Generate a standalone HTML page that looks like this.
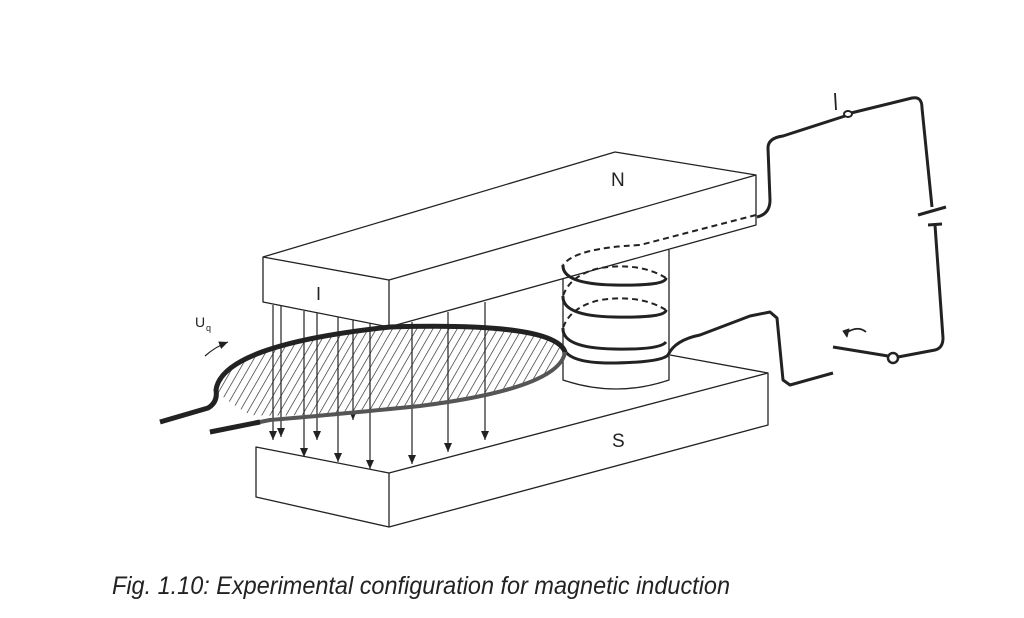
<!DOCTYPE html>
<html><head><meta charset="utf-8"><style>
html,body{margin:0;padding:0;background:#fff;width:1024px;height:618px;overflow:hidden}
</style></head><body>
<svg width="1024" height="618" viewBox="0 0 1024 618" xmlns="http://www.w3.org/2000/svg">
<defs>
<pattern id="h" width="7" height="7" patternUnits="userSpaceOnUse" patternTransform="rotate(30)">
<line x1="0" y1="0" x2="0" y2="7" stroke="#222" stroke-width="1.3"/>
</pattern>
<marker id="a" markerWidth="10" markerHeight="8" refX="9" refY="4" orient="auto" markerUnits="userSpaceOnUse">
<path d="M0,0 L9,4 L0,8 Z" fill="#222"/>
</marker>
</defs>
<g fill="none" stroke="#222" stroke-width="1.3" stroke-linejoin="round">
<!-- bottom magnet -->
<path d="M256,447 L389,473 L768,373 L768,425 L389,527 L256,497 Z" fill="#fff"/>
<line x1="389" y1="473" x2="389" y2="527"/>
<line x1="670" y1="355" x2="768" y2="373"/>
<!-- coil cylinder -->
<path d="M563,250 L563,380 Q616,398 669,380 L669,250" fill="#fff"/>
<!-- top magnet -->
<path d="M263,257 L615,152 L756,175 L756,225 L389,327 L263,302 Z" fill="#fff"/>
<line x1="263" y1="257" x2="389" y2="280"/>
<line x1="389" y1="280" x2="756" y2="175"/>
<line x1="389" y1="280" x2="389" y2="327"/>
<!-- coil: back halves dashed -->
<g stroke-width="2" stroke-dasharray="6,4">
<path d="M756,215 L640,245 Q575,248 563,265"/>
<path d="M666,278 Q640,262 600,268 Q570,275 563,296"/>
<path d="M666,310 Q640,294 600,300 Q570,307 563,328"/>
</g>
<g stroke-width="3">
<path d="M563,265 Q562,284 614,285 Q666,286 666,278"/>
<path d="M563,296 Q562,316 614,317 Q666,318 666,310"/>
<path d="M563,328 Q562,348 614,349 Q660,350 666,342"/>
<path d="M563,346 Q566,364 616,363 Q662,362 668,355 Q675,340 700,335 L750,316 L770,312 L777,318 L783,380 L790,385 L833,373"/>
</g>
<!-- field arrows -->
<g stroke-width="1.2" marker-end="url(#a)">
<line x1="273" y1="305" x2="273" y2="440"/>
<line x1="281" y1="306" x2="281" y2="437"/>
<line x1="304" y1="311" x2="304" y2="457"/>
<line x1="317" y1="313" x2="317" y2="440"/>
<line x1="338" y1="317" x2="338" y2="462"/>
<line x1="353" y1="320" x2="353" y2="420"/>
<line x1="370" y1="323" x2="370" y2="469"/>
<line x1="412" y1="322" x2="412" y2="464"/>
<line x1="448" y1="312" x2="448" y2="452"/>
<line x1="485" y1="302" x2="485" y2="440"/>
</g>
<!-- loop -->
<path d="M218,392 Q225,340 390,327 Q555,322 565,352 Q560,388 420,406 Q300,418 250,415 Q225,400 218,392 Z" fill="url(#h)" stroke="none"/>
<path d="M160,422 L208,408 Q218,402 216,390 Q222,345 390,327 Q555,322 565,352" stroke-width="5"/>
<path d="M565,352 Q560,388 420,406 Q320,416 270,420 Q250,424 210,432" stroke-width="4" stroke="#555"/>
<path d="M260,422 L210,432" stroke-width="5"/>
<!-- Uq arrow -->
<path d="M205,356 Q215,347 228,342" stroke-width="1.2" marker-end="url(#a)"/>
<!-- circuit -->
<g stroke-width="3">
<path d="M757,217 Q770,214 770,200 L768,148 Q768,138 783,136 L845,116 M851,113 L912,98 Q922,96 922,108 L932,207"/>
<line x1="918" y1="215" x2="946" y2="207"/>
<line x1="928" y1="225" x2="942" y2="224"/>
<path d="M935,225 L943,338 Q943,348 935,350 L898,357"/>
<line x1="833" y1="347" x2="888" y2="356"/>
</g>
<ellipse cx="848" cy="114" rx="4" ry="3" stroke-width="2" fill="#fff"/>
<circle cx="893" cy="358" r="5" stroke-width="2.5" fill="#fff"/>
<path d="M866,332 Q858,325 846,333" stroke-width="1.8"/>
<path d="M843,331 L847,337 L849,329 Z" fill="#222" stroke-width="1"/>
<line x1="835" y1="93" x2="836" y2="110" stroke-width="1.8"/>
</g>
<g font-family="Liberation Sans, sans-serif" fill="#222">
<text x="611" y="186" font-size="19">N</text>
<text x="612" y="447" font-size="19">S</text>
<text x="316" y="300" font-size="18">I</text>
<text x="195" y="327" font-size="14">U</text>
<text x="206" y="331" font-size="9">q</text>
<text x="112" y="594" font-size="25" font-style="italic" textLength="618" lengthAdjust="spacingAndGlyphs">Fig. 1.10:  Experimental configuration for magnetic induction</text>
</g>
</svg>
</body></html>
